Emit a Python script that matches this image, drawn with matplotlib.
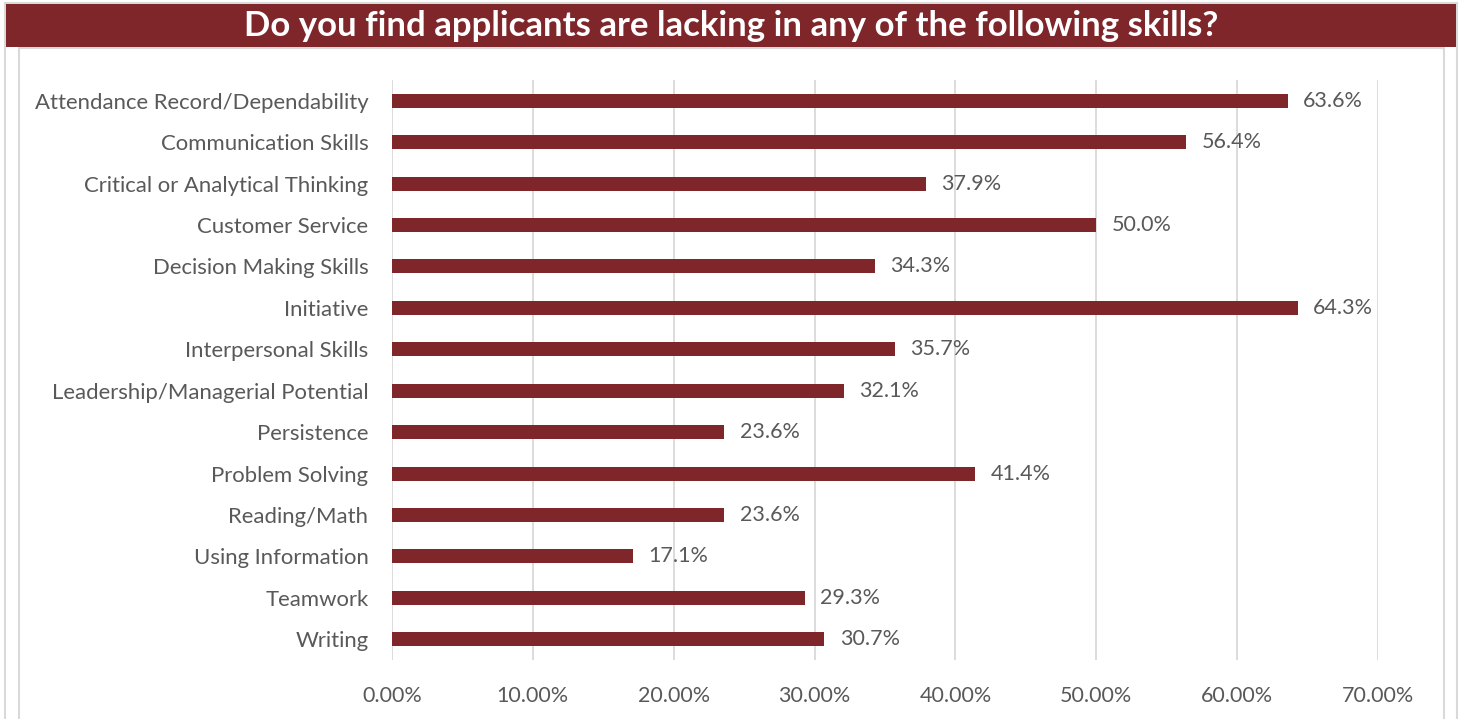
import matplotlib.pyplot as plt
from matplotlib.patches import Rectangle

skills = [
    "Attendance Record/Dependability",
    "Communication Skills",
    "Critical or Analytical Thinking",
    "Customer Service",
    "Decision Making Skills",
    "Initiative",
    "Interpersonal Skills",
    "Leadership/Managerial Potential",
    "Persistence",
    "Problem Solving",
    "Reading/Math",
    "Using Information",
    "Teamwork",
    "Writing",
]
pct = [63.6, 56.4, 37.9, 50.0, 34.3, 64.3, 35.7, 32.1, 23.6, 41.4, 23.6, 17.1, 29.3, 30.7]
ticks = [0, 10, 20, 30, 40, 50, 60, 70]

bar_col = "#7F262A"
txt_col = "#595959"
grid_col = "#D9D9D9"
plt.rcParams["font.family"] = ["Lato", "DejaVu Sans"]

W, H = 1462, 719
fig = plt.figure(figsize=(W / 100, H / 100), dpi=100)

# frames and title bar (pixel coords -> figure fraction)
def px_rect(x0, y0, x1, y1, **kw):
    return Rectangle((x0 / W, 1 - y1 / H), (x1 - x0) / W, (y1 - y0) / H,
                     transform=fig.transFigure, **kw)

fig.patches.append(px_rect(5, 3, 1457, 730, fill=False, ec=grid_col, lw=1.5))
fig.patches.append(px_rect(19, 48, 1444, 730, fill=False, ec=grid_col, lw=1.5))
fig.patches.append(px_rect(6, 4, 1456, 47, fc=bar_col, ec="none"))
fig.text(731 / W, 1 - 26 / H, "Do you find applicants are lacking in any of the following skills?",
         ha="center", va="center", color="white", fontsize=25, fontweight="bold")

ax = fig.add_axes([392 / W, 1 - 660 / H, (1378 - 392) / W, (660 - 80) / H])
y = range(len(skills))
ax.barh(y, pct, height=0.34, color=bar_col, zorder=3)
ax.set_ylim(len(skills) - 0.5, -0.5)
ax.set_xlim(0, 70)
ax.set_xticks(ticks)
ax.set_xticklabels([f"{t:.2f}%" for t in ticks])
ax.set_yticks(list(y))
ax.set_yticklabels(skills)
ax.tick_params(axis="both", length=0, colors=txt_col, labelsize=15.5)
ax.tick_params(axis="x", pad=19)
ax.tick_params(axis="y", pad=17, labelsize=15.9)
ax.grid(axis="x", color=grid_col, lw=1.3, zorder=0)
for s in ax.spines.values():
    s.set_visible(False)

for i, v in enumerate(pct):
    ax.annotate(f"{v:.1f}%", (v, i), xytext=(11, 0), textcoords="offset points",
                va="center", ha="left", color=txt_col, fontsize=15.5)

fig.savefig("out.png", dpi=100)
